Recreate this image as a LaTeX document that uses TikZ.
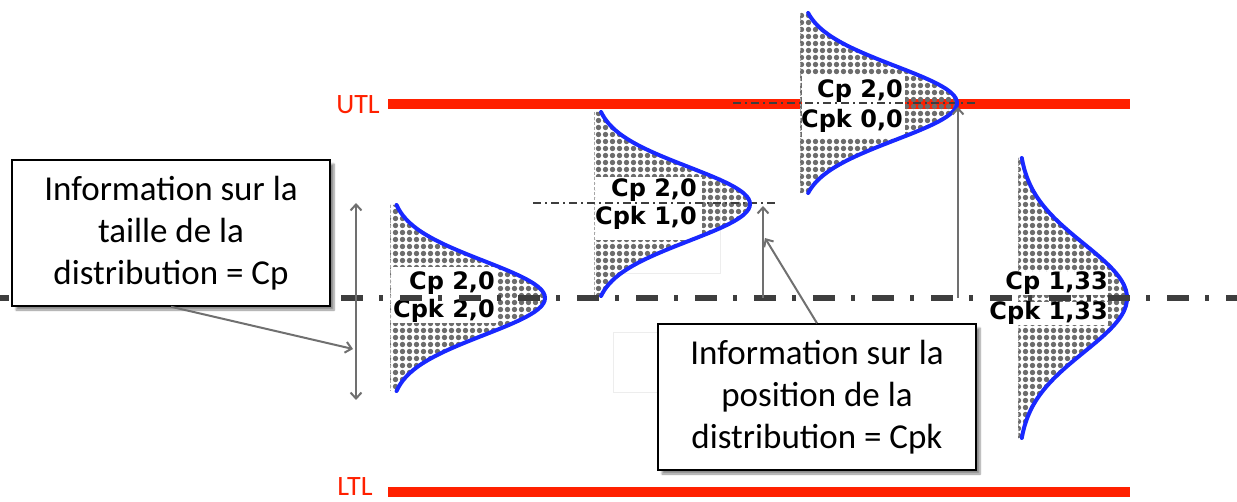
\documentclass[tikz,border=0pt]{standalone}
\usepackage{fontspec}
\setmainfont{Carlito}
\newfontfamily\cpfont{DejaVu Sans}
\usetikzlibrary{arrows.meta,patterns,shadows.blur}

% grey dot raster used to fill the bell curves
\pgfdeclarepatternformonly{dotgrid}{\pgfqpoint{-1pt}{-1pt}}{\pgfqpoint{8pt}{8pt}}{\pgfqpoint{7pt}{7pt}}%
  {\pgfpathcircle{\pgfqpoint{3.5pt}{3.5pt}}{2.7pt}\pgfusepath{fill}}

\definecolor{limred}{RGB}{255,32,0}
\definecolor{bellblue}{RGB}{25,40,255}
\definecolor{dotgray}{RGB}{108,108,108}
\definecolor{meangray}{RGB}{62,62,62}
\definecolor{gaugegray}{RGB}{112,112,112}

\tikzset{
  redbar/.style={limred,line width=10pt},
  limlabel/.style={text=limred,font=\fontsize{28}{30}\selectfont,inner sep=0pt},
  dotfill/.style={pattern=dotgrid,pattern color=dotgray},
  edgeline/.style={gray!70,line width=0.8pt,dash pattern=on 3pt off 2pt},
  whitebox/.style={fill=white,draw=none},
  faintbox/.style={draw=black!7,line width=0.8pt},
  cplabel/.style={font=\cpfont\bfseries\fontsize{24}{26}\selectfont,inner sep=0pt,anchor=base east},
  bellline/.style={bellblue,line width=4pt,line cap=round},
  peakline/.style={meangray,line width=1.2pt,dash pattern=on 8pt off 4pt on 2pt off 4pt},
  meanline/.style={meangray,line width=6pt,dash pattern=on 22pt off 16pt on 4pt off 17pt,dash phase=13pt},
  gauge/.style={gaugegray,line width=2pt,>={Straight Barb[length=6pt,width=11pt]}},
  infobox/.style={draw=black,line width=1.5pt,fill=white,align=center,
    font=\fontsize{35}{42}\selectfont,minimum width=318pt,minimum height=146pt,inner sep=0pt,
    blur shadow={shadow xshift=4pt,shadow yshift=-4pt,shadow blur steps=6,shadow opacity=45}},
}

% sideways normal curve: left x, centre y, height, half span, sigma
\newcommand\bellfill[5]{%
  \fill[dotfill] plot[variable=\t,domain=-#4:#4,samples=71,smooth]
    ({#1+#3*exp(-0.5*(\t/#5)^2)},{#2+\t}) -- (#1,{#2+#4}) -- (#1,{#2-#4}) -- cycle;
  \draw[edgeline] (#1,{#2-#4}) -- (#1,{#2+#4});}
\newcommand\bellcurve[5]{%
  \draw[bellline] plot[variable=\t,domain=-#4:#4,samples=71,smooth]
    ({#1+#3*exp(-0.5*(\t/#5)^2)},{#2+\t});}

\begin{document}
\begin{tikzpicture}[x=1pt,y=-1pt]
\useasboundingbox (0,0) rectangle (1237,502);

% tolerance limits
\draw[redbar] (388,104) -- (1130,104);
\draw[redbar] (388,492) -- (1130,492);
\node[limlabel] (utl) at (358,105) {UTL};
\node[limlabel] (ltl) at (355,487) {LTL};

% faint frames
\draw[faintbox] (596,177) rectangle (720,273);
\draw[faintbox] (613,332) rectangle (720,392);

% dotted fills under the curves
\bellfill{390}{298}{155}{93}{37}
\bellfill{594}{204}{156}{92}{37}
\bellfill{800}{103}{157}{90}{37}
\bellfill{1018}{298}{109}{140}{54}

% label backgrounds
\fill[whitebox] (392,267) rectangle (497,323);
\fill[whitebox] (596,177) rectangle (702,240);
\fill[whitebox] (802,75) rectangle (905,138);

% capability values
\node[cplabel] (cp1) at (495,290) {Cp 2,0};
\node[cplabel] (cpk1) at (495,318) {Cpk 2,0};
\node[cplabel] (cp2) at (697,197) {Cp 2,0};
\node[cplabel] (cpk2) at (697,225) {Cpk 1,0};
\node[cplabel] (cp3) at (903,98) {Cp 2,0};
\node[cplabel] (cpk3) at (903,128) {Cpk 0,0};
\node[cplabel,fill=white] (cp4) at (1108,290) {Cp 1,33};
\node[cplabel,fill=white] (cpk4) at (1108,320) {Cpk 1,33};

% peak markers
\coordinate (pk2a) at (533,203);
\coordinate (pk2b) at (775,203);
\coordinate (pk3a) at (733,103);
\coordinate (pk3b) at (975,103);
\draw[peakline] (pk2a) -- (pk2b);
\draw[peakline] (pk3a) -- (pk3b);

% bell curves
\bellcurve{390}{298}{155}{93}{37}
\bellcurve{594}{204}{156}{92}{37}
\bellcurve{800}{103}{157}{90}{37}
\bellcurve{1018}{298}{109}{140}{54}

% process centre line
\coordinate (meanL) at (0,298);
\coordinate (meanR) at (1237,298);
\draw[meanline] (meanL) -- (meanR);

% spread and offset gauges
\coordinate (spreadTop) at (356,203);
\coordinate (spreadBot) at (356,400);
\coordinate (spreadHit) at (353,349);
\draw[gauge,<->] (spreadTop) -- (spreadBot);
\coordinate (off2base) at (763,298);
\coordinate (off2top) at (763,206);
\coordinate (off2hit) at (765,238);
\draw[gauge,->] (off2base) -- (off2top);
\coordinate (off3base) at (958,298);
\coordinate (off3top) at (958,107);
\draw[gauge,->] (off3base) -- (off3top);

% explanation boxes
\node[infobox] (lbox) at (171,233) {Information sur la\\taille de la\\distribution = Cp};
\node[infobox] (rbox) at (817,397) {Information sur la\\position de la\\distribution = Cpk};
\draw[gauge,->] (lbox.south) -- (spreadHit);
\draw[gauge,->] (rbox.north) -- (off2hit);
\end{tikzpicture}
\end{document}
